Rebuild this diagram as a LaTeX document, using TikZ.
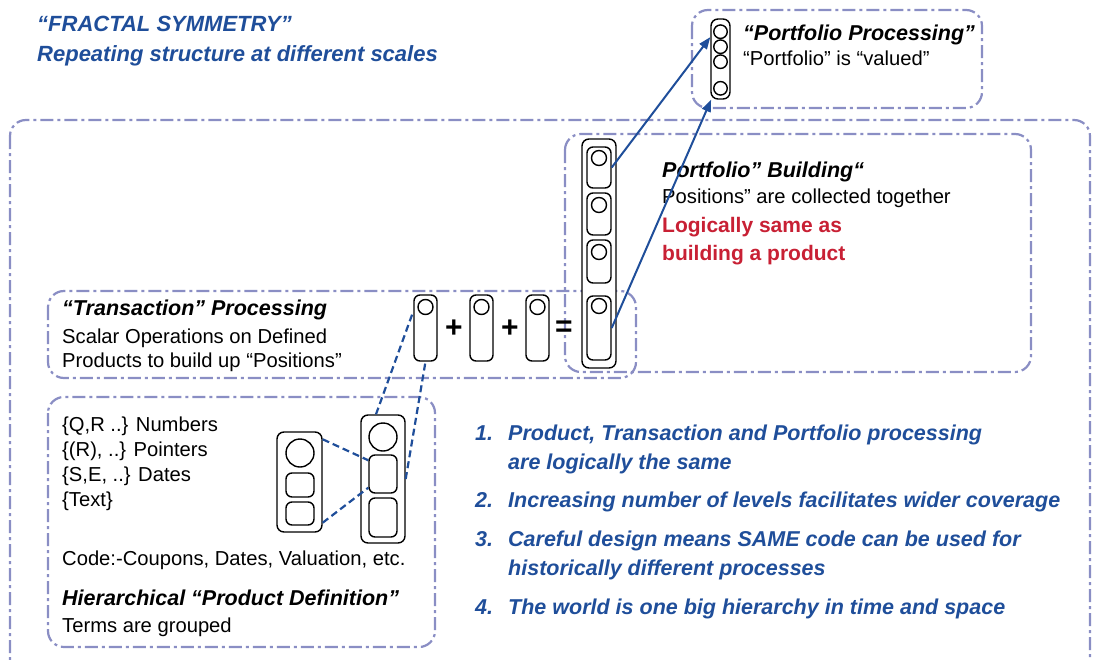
\documentclass[tikz,border=0pt]{standalone}
\usepackage{fontspec}
\setmainfont{Liberation Sans}
\usetikzlibrary{arrows.meta}
\definecolor{frame}{RGB}{138,142,196}
\definecolor{ink}{RGB}{31,78,154}
\definecolor{alert}{RGB}{200,32,52}
\begin{document}
\begin{tikzpicture}[x=1pt, y=-1pt,
    lane/.style={draw=frame, line width=2.2pt, rounded corners=16pt, dash pattern=on 13pt off 4pt on 3pt off 4pt},
    stack/.style={draw, line width=1.4pt, rounded corners=7pt, fill=white, inner sep=0pt},
    cell/.style={draw, line width=1.4pt, rounded corners=6pt, inner sep=0pt},
    ball/.style={draw, line width=1.4pt, circle, inner sep=0pt},
    link/.style={draw=ink, line width=2.2pt, dash pattern=on 7pt off 4pt},
    feed/.style={draw=ink, line width=2pt, -{Triangle[length=12pt, width=9pt]}},
    txt/.style={anchor=base west, inner sep=0pt, font=\fontsize{20.2}{24}\selectfont},
    head/.style={anchor=base west, inner sep=0pt, font=\fontsize{21.5}{24}\selectfont\bfseries\itshape},
    note/.style={anchor=base west, inner sep=0pt, text=ink, font=\fontsize{21.5}{29}\selectfont\bfseries\itshape},
    op/.style={inner sep=0pt, font=\fontsize{30}{30}\selectfont\bfseries}]
    \clip (0,0) rectangle (1098,659);

    %Frames
    \draw[lane] (10,120) rectangle (1090,700);
    \draw[lane] (692,10) rectangle (982,108);
    \draw[lane] (565,134) rectangle (1031,372);
    \draw[lane] (48,291) rectangle (636,378);
    \draw[lane] (48,397) rectangle (435,647);

    %Title
    \node[note, font=\fontsize{22}{26}\selectfont\bfseries\itshape] (title) at (37,31) {“FRACTAL SYMMETRY”};
    \node[note, font=\fontsize{22}{26}\selectfont\bfseries\itshape] (subtitle) at (37,61) {Repeating structure at different scales};

    %Portfolio processing
    \node[stack, minimum width=19pt, minimum height=80pt] (pstack) at (720.5,59) {};
    \node[ball, minimum size=13.5pt] (pball1) at (720.5,31.7) {};
    \node[ball, minimum size=13.5pt] (pball2) at (720.5,46.7) {};
    \node[ball, minimum size=13.5pt] (pball3) at (720.5,61.7) {};
    \node[ball, minimum size=13.5pt] (pball4) at (720.5,88.3) {};
    \node[head] (phead) at (743,40) {“Portfolio Processing”};
    \node[txt] (ptext) at (743,65) {“Portfolio” is “valued”};

    %Portfolio building
    \node[stack, minimum width=34pt, minimum height=229pt] (bstack) at (599,253.5) {};
    \node[cell, minimum width=24pt, minimum height=41pt] (bcell1) at (599,167.5) {};
    \node[cell, minimum width=24pt, minimum height=42pt] (bcell2) at (599,214) {};
    \node[cell, minimum width=24pt, minimum height=43pt] (bcell3) at (599,261.5) {};
    \node[cell, minimum width=24pt, minimum height=64pt] (bcell4) at (599,328) {};
    \node[ball, minimum size=15pt] (bball1) at (599,158) {};
    \node[ball, minimum size=15pt] (bball2) at (599,205) {};
    \node[ball, minimum size=15pt] (bball3) at (599,252) {};
    \node[ball, minimum size=15pt] (bball4) at (599,306) {};
    \node[head] (bhead) at (662,177) {Portfolio” Building“};
    \node[txt] (btext) at (662,203) {Positions” are collected together};
    \node[anchor=base west, inner sep=0pt, text=alert, font=\fontsize{21}{28}\selectfont\bfseries] (bnote) at (662,232) {\parbox[t]{300pt}{Logically same as\\building a product}};

    %Transaction processing
    \node[cell, fill=white, minimum width=23pt, minimum height=66pt] (tcell1) at (425.5,328) {};
    \node[cell, fill=white, minimum width=23pt, minimum height=66pt] (tcell2) at (481.5,328) {};
    \node[cell, fill=white, minimum width=23pt, minimum height=66pt] (tcell3) at (537.5,328) {};
    \node[ball, minimum size=15pt] (tball1) at (425.5,307) {};
    \node[ball, minimum size=15pt] (tball2) at (481.5,307) {};
    \node[ball, minimum size=15pt] (tball3) at (537.5,307) {};
    \node[op] (plus1) at (454,329) {+};
    \node[op] (plus2) at (510,329) {+};
    \node[op] (equal) at (564,329) {=};
    \node[head] (thead) at (62,315) {“Transaction” Processing};
    \node[txt] (ttext) at (62,343) {\parbox[t]{340pt}{Scalar Operations on Defined\\Products to build up “Positions”}};

    %Product definition
    \node[stack, minimum width=45pt, minimum height=100pt] (lstack) at (299.5,482) {};
    \node[ball, minimum size=28pt] (lball) at (300,453) {};
    \node[cell, minimum width=28pt, minimum height=24pt] (lcell1) at (300,485) {};
    \node[cell, minimum width=28pt, minimum height=23pt] (lcell2) at (300,513.5) {};
    \node[stack, minimum width=44pt, minimum height=128pt] (rstack) at (383,479) {};
    \node[ball, minimum size=28pt] (rball) at (383,437) {};
    \node[cell, minimum width=28pt, minimum height=38pt] (rcell1) at (383,474) {};
    \node[cell, minimum width=28pt, minimum height=39pt] (rcell2) at (383,517.5) {};
    \node[txt, font=\fontsize{20.2}{25.3}\selectfont] (terms) at (62,431) {\parbox[t]{200pt}{\{Q,R ..\} Numbers\\\{(R), ..\} Pointers\\\{S,E, ..\} Dates\\\{Text\}}};
    \node[txt] (code) at (62,565) {Code:-Coupons, Dates, Valuation, etc.};
    \node[head] (dhead) at (62,605) {Hierarchical “Product Definition”};
    \node[txt] (dtext) at (62,632) {Terms are grouped};

    %Lines
    \draw[link] ([yshift=-8pt]lstack.north east) -- ([yshift=-6pt]rcell1.north west);
    \draw[link] ([yshift=10pt]lstack.south east) -- ([yshift=6pt]rcell1.south west);
    \draw[link] ([xshift=-7pt]rstack.north) -- ([yshift=-17pt]tcell1.north west);
    \draw[link] (rstack.east) -- (tcell1.south);
    \draw[feed] (bcell1.east) -- (pstack.115);
    \draw[feed] (bcell4.east) -- (pstack.257);

    %Points
    \node[note] (point1) at (475,440) {\makebox[33pt][l]{1.}\parbox[t]{580pt}{Product, Transaction and Portfolio processing\\are logically the same}};
    \node[note] (point2) at (475,507) {\makebox[33pt][l]{2.}Increasing number of levels facilitates wider coverage};
    \node[note] (point3) at (475,546) {\makebox[33pt][l]{3.}\parbox[t]{580pt}{Careful design means SAME code can be used for\\historically different processes}};
    \node[note] (point4) at (475,614) {\makebox[33pt][l]{4.}The world is one big hierarchy in time and space};
\end{tikzpicture}
\end{document}
